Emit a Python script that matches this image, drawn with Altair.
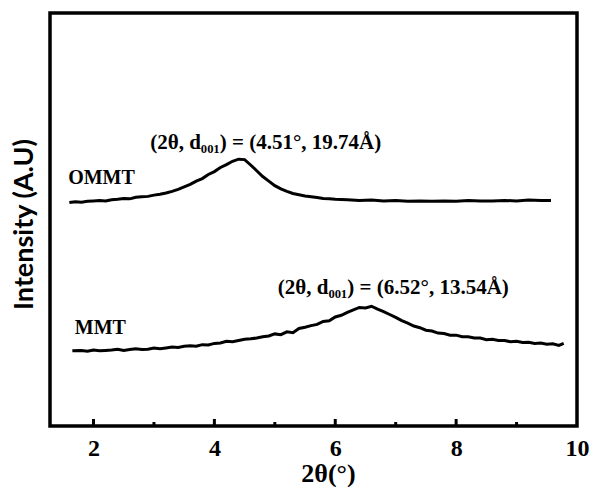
import altair as alt
import pandas as pd

# OMMT pattern (2theta, intensity a.u.)
ommt_x = [1.6, 1.7, 1.8, 1.9, 2.0, 2.1, 2.2, 2.3, 2.4, 2.5, 2.6, 2.7, 2.8, 2.9, 3.0,
          3.1, 3.2, 3.3, 3.4, 3.5, 3.6, 3.7, 3.8, 3.9, 4.0, 4.1, 4.2, 4.3, 4.4, 4.5,
          4.6, 4.7, 4.8, 4.9, 5.0, 5.1, 5.2, 5.3, 5.4, 5.5, 5.6, 5.7, 5.8, 5.9, 6.0,
          6.2, 6.4, 6.6, 6.8, 7.0, 7.2, 7.4, 7.6, 7.8, 8.0, 8.2, 8.4, 8.6, 8.8, 9.0,
          9.2, 9.4, 9.57]
ommt_y = [54.1, 54.3, 54.2, 54.4, 54.5, 54.6, 54.5, 54.8, 54.9, 55.1, 55.0, 55.4, 55.5, 55.6, 55.9,
          56.1, 56.4, 56.8, 57.3, 57.9, 58.5, 59.3, 59.9, 60.9, 61.6, 62.6, 63.3, 64.1, 64.6, 64.5,
          63.2, 61.8, 60.4, 59.3, 58.2, 57.4, 56.8, 56.3, 56.0, 55.7, 55.5, 55.3, 55.1, 55.0, 54.9,
          54.8, 54.6, 54.7, 54.5, 54.6, 54.4, 54.5, 54.4, 54.5, 54.4, 54.6, 54.5, 54.5, 54.6, 54.5,
          54.7, 54.6, 54.6]

# MMT pattern
mmt_x = [1.65, 1.8, 1.9, 2.0, 2.1, 2.2, 2.3, 2.4, 2.5, 2.6, 2.7, 2.8, 2.9, 3.0, 3.1,
         3.2, 3.3, 3.4, 3.5, 3.6, 3.7, 3.8, 3.9, 4.0, 4.1, 4.2, 4.3, 4.4, 4.5, 4.6,
         4.7, 4.8, 4.9, 5.0, 5.1, 5.2, 5.3, 5.4, 5.5, 5.6, 5.7, 5.8, 5.9, 6.0, 6.1,
         6.2, 6.3, 6.4, 6.5, 6.6, 6.7, 6.8, 6.9, 7.0, 7.1, 7.2, 7.3, 7.4, 7.5, 7.6,
         7.7, 7.8, 7.9, 8.0, 8.1, 8.2, 8.3, 8.4, 8.5, 8.6, 8.7, 8.8, 8.9, 9.0, 9.1,
         9.2, 9.3, 9.4, 9.5, 9.6, 9.7, 9.78]
mmt_y = [18.2, 18.3, 18.1, 18.4, 18.2, 18.3, 18.4, 18.6, 18.3, 18.5, 18.7, 18.5, 18.6, 18.9, 18.7,
         18.9, 19.1, 19.0, 19.3, 19.4, 19.3, 19.7, 19.6, 20.0, 20.1, 20.5, 20.4, 20.7, 21.0, 21.1,
         21.3, 21.6, 21.8, 22.3, 22.1, 22.8, 22.6, 23.6, 23.9, 24.3, 24.6, 25.3, 25.5, 26.4, 26.8,
         27.5, 28.1, 28.7, 28.6, 29.0, 28.3, 27.7, 27.0, 26.3, 25.5, 24.9, 24.2, 23.8, 23.2, 23.0,
         22.5, 22.4, 22.0, 22.0, 21.6, 21.6, 21.3, 21.3, 20.9, 21.0, 20.7, 20.7, 20.4, 20.5, 20.2,
         20.3, 20.0, 20.1, 19.8, 19.9, 19.5, 20.0]

# Sample labels and peak annotations
label_text = ["OMMT", "MMT"]
label_x = [1.58, 1.69]
label_y = [60.0, 23.7]

annot_text = ["(2θ, d₀₀₁) = (4.51°, 19.74Å)", "(2θ, d₀₀₁) = (6.52°, 13.54Å)"]
annot_x = [4.85, 6.96]
annot_y = [68.6, 33.3]

# x-axis tick values
major_ticks = [2, 4, 6, 8]
minor_ticks = [3, 5, 7, 9]
tick_labels = [2, 4, 6, 8, 10]

curves = pd.concat([
    pd.DataFrame({"x": ommt_x, "y": ommt_y, "s": "OMMT"}),
    pd.DataFrame({"x": mmt_x, "y": mmt_y, "s": "MMT"}),
])
labels = pd.DataFrame({"t": label_text, "x": label_x, "y": label_y})
annots = pd.DataFrame({"t": annot_text, "x": annot_x, "y": annot_y})
majors = pd.DataFrame({"x": major_ticks})
minors = pd.DataFrame({"x": minor_ticks})

xscale = alt.Scale(domain=[1.28, 10.0], nice=False, zero=False)
yscale = alt.Scale(domain=[0, 100], nice=False, zero=False)

xenc = alt.X("x:Q", scale=xscale, axis=alt.Axis(
    values=tick_labels, format="d", title="2θ(°)", grid=False, domain=False, ticks=False, tickSize=0,
    labelFont="Liberation Serif", labelFontWeight="bold", labelFontSize=24, labelColor="black",
    labelPadding=29, labelBaseline="alphabetic", labelFlush=False, labelOverlap=False,
    titleFont="Liberation Serif", titleFontWeight="bold", titleFontSize=26, titleColor="black",
    titleX=278, titleY=55, titleBaseline="alphabetic", titleAlign="center"))
yenc = alt.Y("y:Q", scale=yscale, axis=alt.Axis(
    title="Intensity (A.U)", grid=False, domain=False, ticks=False, labels=False,
    titleFont="Lato", titleFontWeight="bold", titleFontSize=27, titleColor="black",
    titleAngle=270, titleX=-18, titleY=211, titleBaseline="alphabetic", titleAlign="center"))

lines = alt.Chart(curves).mark_line(color="black", strokeWidth=3, interpolate="linear").encode(
    x=xenc, y=yenc, detail="s:N")

lab = alt.Chart(labels).mark_text(font="Liberation Serif", fontWeight="bold", fontSize=20,
                                  align="left", baseline="middle", color="black").encode(
    x=alt.X("x:Q", scale=xscale), y=alt.Y("y:Q", scale=yscale), text="t:N")

ann = alt.Chart(annots).mark_text(font="Liberation Serif", fontWeight="bold", fontSize=21,
                                  align="center", baseline="middle", color="black").encode(
    x=alt.X("x:Q", scale=xscale), y=alt.Y("y:Q", scale=yscale), text="t:N")

tmaj = alt.Chart(majors).mark_rule(color="black", strokeWidth=3).encode(
    x=alt.X("x:Q", scale=xscale), y=alt.value(413), y2=alt.value(406))
tmin = alt.Chart(minors).mark_rule(color="black", strokeWidth=3).encode(
    x=alt.X("x:Q", scale=xscale), y=alt.value(413), y2=alt.value(409))

chart = alt.layer(lines, lab, ann, tmaj, tmin).properties(
    width=527, height=413,
    autosize=alt.AutoSizeParams(type="none"),
    padding={"left": 50, "top": 13, "right": 14, "bottom": 61},
    background="white",
).configure_view(stroke="black", strokeWidth=3.5)

chart.save("out.html", embed_options={"renderer": "svg", "actions": False})
